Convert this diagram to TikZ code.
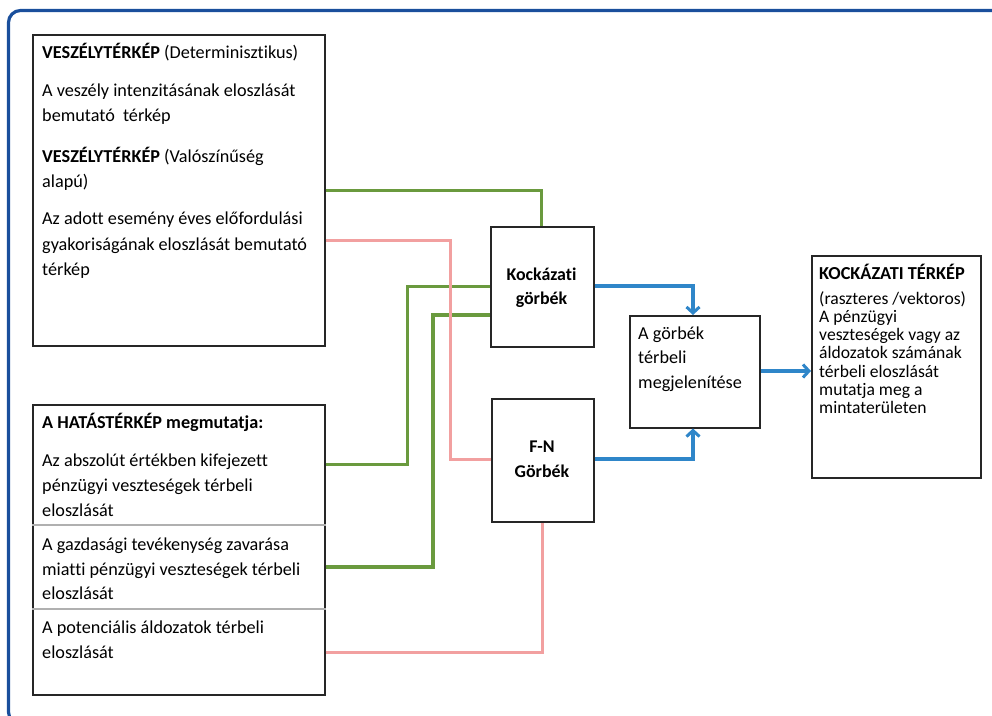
\documentclass[tikz,border=0pt]{standalone}
\usepackage{fontspec}
\setmainfont{Carlito}[Ligatures=NoCommon]
\usetikzlibrary{arrows.meta}

\definecolor{framebl}{HTML}{1A4F9C}
\definecolor{linegr}{HTML}{6A9A3E}
\definecolor{linepk}{HTML}{F2A0A0}
\definecolor{linebl}{HTML}{2F86C9}
\definecolor{sepgray}{HTML}{B0B0B0}

\tikzset{
  box/.style={draw=black!85, line width=1.5pt, fill=white},
  txt/.style={inner sep=0pt, anchor=base west, font=\fontsize{18.2}{20}\selectfont},
  rtxt/.style={inner sep=0pt, anchor=base west, font=\fontsize{17.6}{19}\selectfont},
  ctxt/.style={inner sep=0pt, anchor=base, font=\fontsize{17.9}{20}\selectfont\bfseries},
  gline/.style={draw=linegr, line width=3pt},
  gthick/.style={draw=linegr, line width=4pt},
  pline/.style={draw=linepk, line width=3pt},
  bline/.style={draw=linebl, line width=3.2pt, -{Straight Barb[length=6pt,width=13pt,line width=3pt]}},
}

\begin{document}
\begin{tikzpicture}[x=1pt,y=-1pt]
\useasboundingbox (0,0) rectangle (992,715);
\clip (0,0) rectangle (992,715);

% outer frame
\draw[framebl, line width=3.2pt, rounded corners=12pt] (8.5,10.5) rectangle (1010,724);

% boxes
\node[box, minimum width=292pt, minimum height=311pt, anchor=north west] (haz) at (32,34) {};
\node[box, minimum width=292pt, minimum height=290pt, anchor=north west] (hat) at (32,404) {};
\draw[sepgray, line width=1.2pt] (hat.west |- 0,525) coordinate (s1) -- (hat.east |- 0,525);
\draw[sepgray, line width=1.2pt] (hat.west |- 0,609) coordinate (s2) -- (hat.east |- 0,609);
\node[box, minimum width=103pt, minimum height=120pt, anchor=north west] (koc) at (490,226) {};
\node[box, minimum width=102pt, minimum height=123pt, anchor=north west] (fn) at (491,398) {};
\node[box, minimum width=130pt, minimum height=112pt, anchor=north west] (meg) at (629,315) {};
\node[box, minimum width=169pt, minimum height=222pt, anchor=north west] (kt) at (811,255) {};

% hazard map texts
\node[txt] (h1) at (42,58) {\textbf{VESZÉLYTÉRKÉP} (Determinisztikus)};
\node[txt] (h2) at (42,96.5) {A veszély intenzitásának eloszlását};
\node[txt] (h3) at (42,121.5) {bemutató\ \ térkép};
\node[txt] (h4) at (42,162) {\textbf{VESZÉLYTÉRKÉP} (Valószínűség};
\node[txt] (h5) at (42,187) {alapú)};
\node[txt] (h6) at (42,224.5) {Az adott esemény éves előfordulási};
\node[txt] (h7) at (42,250) {gyakoriságának eloszlását bemutató};
\node[txt] (h8) at (42,275) {térkép};

% impact map texts
\node[txt] (i1) at (42,428) {\textbf{A HATÁSTÉRKÉP megmutatja:}};
\node[txt] (i2) at (42,466) {Az abszolút értékben kifejezett};
\node[txt] (i3) at (42,491.5) {pénzügyi veszteségek térbeli};
\node[txt] (i4) at (42,516.5) {eloszlását};
\node[txt] (i5) at (42,550) {A gazdasági tevékenység zavarása};
\node[txt] (i6) at (42,575) {miatti pénzügyi veszteségek térbeli};
\node[txt] (i7) at (42,599.5) {eloszlását};
\node[txt] (i8) at (42,633.5) {A potenciális áldozatok térbeli};
\node[txt] (i9) at (42,658.5) {eloszlását};

% curve boxes
\node[ctxt] (k1) at (541.5,280) {Kockázati};
\node[ctxt] (k2) at (541.5,304.5) {görbék};
\node[ctxt] (f1) at (542,452.5) {F-N};
\node[ctxt] (f2) at (542,477.5) {Görbék};

\node[txt] (m1) at (638,339) {A görbék};
\node[txt] (m2) at (638,363.5) {térbeli};
\node[txt] (m3) at (638,388.5) {megjelenítése};

% risk map texts
\node[rtxt, font=\fontsize{18.3}{20}\selectfont\bfseries] (r1) at (819,279.5) {KOCKÁZATI TÉRKÉP};
\node[rtxt] (r2) at (819,304) {(raszteres /vektoros)};
\node[rtxt] (r3) at (819,322) {A pénzügyi};
\node[rtxt] (r4) at (819,340.5) {veszteségek vagy az};
\node[rtxt] (r5) at (819,358.5) {áldozatok számának};
\node[rtxt] (r6) at (819,377) {térbeli eloszlását};
\node[rtxt] (r7) at (819,395) {mutatja meg a};
\node[rtxt] (r8) at (819,413.5) {mintaterületen};

% green connectors into the risk curves
\draw[gline] (haz.east |- 0,190.5) -| (koc.north -| 541.5,0);
\draw[gline] (hat.east |- 0,464) -| (407,286) -- (koc.west |- 0,286);
\draw[gthick] (hat.east |- 0,567) -| (433,315) -- (koc.west |- 0,315);

% pink connectors into the F-N curves
\draw[pline] (haz.east |- 0,240.5) -| (450,459) -- (fn.west |- 0,459);
\draw[pline] (hat.east |- 0,652) -| (fn.south -| 542,0);

% blue connectors
\draw[bline] (koc.east |- 0,286) -| (meg.north -| 693,0);
\draw[bline] (fn.east |- 0,459) -| (meg.south -| 693,0);
\draw[bline] (meg.east |- 0,371) -- (kt.west |- 0,371);
\end{tikzpicture}
\end{document}
